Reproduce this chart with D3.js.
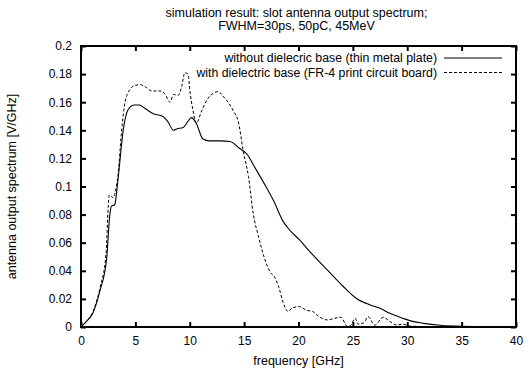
<!DOCTYPE html>
<html>
<head>
<meta charset="utf-8">
<script src="https://cdn.jsdelivr.net/npm/d3@7"></script>
<style>
  body { margin: 0; background: #fff; }
  text { font-family: "Liberation Sans", Arial, sans-serif; fill: #000; }
</style>
</head>
<body>
<svg id="viz" width="530" height="372"></svg>
<script>
// slot antenna output spectrum, two cases

var titleLines = ["simulation result: slot antenna output spectrum;", "FWHM=30ps, 50pC, 45MeV"];
var xLabel = "frequency [GHz]";
var yLabel = "antenna output spectrum [V/GHz]";
var seriesNames = ["without dielecric base (thin metal plate)", "with dielectric base (FR-4 print circuit board)"];
var xTicks = [0, 5, 10, 15, 20, 25, 30, 35, 40];
var yTicks = [0, 0.02, 0.04, 0.06, 0.08, 0.1, 0.12, 0.14, 0.16, 0.18, 0.2];

// without dielectric base: [GHz, V/GHz]
var metalPlate = [
  [0, 0], [0.5, 0.004], [1.1, 0.010], [1.75, 0.026], [2.35, 0.048], [2.65, 0.080],
  [2.8, 0.086], [3.1, 0.087], [3.4, 0.105], [3.9, 0.141], [4.35, 0.155], [4.9, 0.158],
  [5.4, 0.158], [5.8, 0.156], [6.6, 0.152], [7.5, 0.150], [8.0, 0.146], [8.5, 0.140],
  [8.8, 0.141], [9.4, 0.142], [9.8, 0.146], [10.15, 0.149], [10.6, 0.145], [11.2, 0.134],
  [11.8, 0.1325], [12.8, 0.1325], [13.7, 0.132], [14.6, 0.127], [15.2, 0.1235],
  [16.1, 0.112], [17.0, 0.100], [17.7, 0.090], [18.6, 0.075], [19.3, 0.068], [20.1, 0.062],
  [21.0, 0.054], [22.6, 0.041], [24.1, 0.029], [25.3, 0.0205], [26.6, 0.0157],
  [27.5, 0.0133], [28.4, 0.0097], [29.6, 0.0062], [30.5, 0.004], [31.5, 0.0026],
  [33.0, 0.0012], [34.5, 0.0006], [37.0, 0.0002], [40.0, 0.0001]
];

// with dielectric base
var fr4Board = [
  [0, 0], [0.5, 0.004], [1.1, 0.011], [1.75, 0.028], [2.3, 0.052], [2.5, 0.085],
  [2.6, 0.094], [2.8, 0.093], [2.95, 0.092], [3.15, 0.096], [3.4, 0.108], [3.75, 0.141],
  [4.05, 0.160], [4.5, 0.169], [5.0, 0.172], [5.45, 0.1725], [5.9, 0.171], [6.5, 0.168],
  [7.25, 0.168], [7.7, 0.166], [8.2, 0.160], [8.5, 0.1655], [8.95, 0.165], [9.25, 0.171],
  [9.55, 0.181], [9.85, 0.180], [10.0, 0.169], [10.3, 0.154], [10.6, 0.145], [11.1, 0.154],
  [11.7, 0.163], [12.2, 0.1665], [12.6, 0.1675], [13.2, 0.163], [13.7, 0.158], [14.0, 0.154],
  [14.5, 0.145], [14.9, 0.126], [15.4, 0.107], [15.85, 0.080], [16.3, 0.065], [17.0, 0.046],
  [17.4, 0.039], [17.8, 0.0355], [18.2, 0.028], [18.6, 0.017], [19.05, 0.011],
  [19.4, 0.0135], [20.1, 0.0145], [20.7, 0.012], [21.3, 0.011], [21.9, 0.0073],
  [22.7, 0.005], [23.3, 0.0062], [23.9, 0.0069], [24.5, 0.0003], [24.8, 0.001],
  [25.2, 0.0062], [25.5, 0.002], [26.0, 0.003], [26.4, 0.0073], [27.0, 0.0014],
  [27.8, 0.0069], [28.4, 0.004], [29.0, 0.0014], [29.6, 0.002], [30.2, 0.0007],
  [31.5, 0.0003], [34.0, 0.0001], [40.0, 0.0]
];

var svg = d3.select("#viz");
var margin = {left: 81, right: 14, top: 46, bottom: 45};
var width = +svg.attr("width"), height = +svg.attr("height");
var plotW = width - margin.left - margin.right;
var plotH = height - margin.top - margin.bottom;

var x = d3.scaleLinear().domain([0, 40]).range([margin.left, margin.left + plotW]);
var y = d3.scaleLinear().domain([0, 0.2]).range([margin.top + plotH, margin.top]);

var tickFont = 12;
var labelFont = 12.5;

// title
svg.append("g").selectAll("text")
    .data(titleLines)
    .enter()
    .append("text")
    .attr("x", margin.left + plotW / 2 - 2)
    .attr("y", (d, i) => 17 + i * 12.5)
    .attr("text-anchor", "middle")
    .attr("font-size", 12.5)
    .text(d => d);

// axes with inward ticks, mirrored
var tickLen = 5;
svg.append("g")
    .attr("transform", `translate(0,${margin.top + plotH})`)
    .call(d3.axisBottom(x).tickValues(xTicks).tickSizeInner(-tickLen).tickSizeOuter(0).tickPadding(9))
    .call(g => g.select(".domain").remove());
svg.append("g")
    .attr("transform", `translate(0,${margin.top})`)
    .call(d3.axisTop(x).tickValues(xTicks).tickSizeInner(-tickLen).tickSizeOuter(0).tickFormat(""))
    .call(g => g.select(".domain").remove());
svg.append("g")
    .attr("transform", `translate(${margin.left},0)`)
    .call(d3.axisLeft(y).tickValues(yTicks).tickSizeInner(-tickLen).tickSizeOuter(0).tickPadding(9)
        .tickFormat(d3.format("~g")))
    .call(g => g.select(".domain").remove());
svg.append("g")
    .attr("transform", `translate(${margin.left + plotW},0)`)
    .call(d3.axisRight(y).tickValues(yTicks).tickSizeInner(-tickLen).tickSizeOuter(0).tickFormat(""))
    .call(g => g.select(".domain").remove());

svg.selectAll(".tick line").attr("stroke", "#000").attr("stroke-width", 2);
svg.selectAll(".tick text")
    .attr("font-size", tickFont)
    .attr("font-family", "Liberation Sans, Arial, sans-serif")
    .attr("fill", "#000");

// curves
var line = d3.line()
    .x(d => x(d[0]))
    .y(d => y(d[1]))
    .curve(d3.curveMonotoneX);

var plot = svg.append("g");
plot.append("path")
    .datum(metalPlate)
    .attr("fill", "none")
    .attr("stroke", "#000")
    .attr("stroke-width", 1.1)
    .attr("d", line);
plot.append("path")
    .datum(fr4Board)
    .attr("fill", "none")
    .attr("stroke", "#000")
    .attr("stroke-width", 1)
    .attr("stroke-dasharray", "3,2")
    .attr("d", line);

// frame
svg.append("rect")
    .attr("x", margin.left)
    .attr("y", margin.top)
    .attr("width", plotW)
    .attr("height", plotH)
    .attr("fill", "none")
    .attr("stroke", "#000")
    .attr("stroke-width", 2);

// legend (top right, inside)
var legend = svg.append("g");
var dashes = [null, "3,2"];
seriesNames.forEach((name, i) => {
    var ly = 58 + i * 14.5;
    legend.append("text")
        .attr("x", 437)
        .attr("y", ly + 4)
        .attr("text-anchor", "end")
        .attr("font-size", 12.3)
        .text(name);
    legend.append("line")
        .attr("x1", 444)
        .attr("x2", 502)
        .attr("y1", ly)
        .attr("y2", ly)
        .attr("stroke", "#000")
        .attr("stroke-width", 1)
        .attr("stroke-dasharray", dashes[i]);
});

// axis titles
svg.append("text")
    .attr("x", margin.left + plotW / 2)
    .attr("y", 365)
    .attr("text-anchor", "middle")
    .attr("font-size", labelFont)
    .text(xLabel);
svg.append("text")
    .attr("transform", `translate(16,${margin.top + plotH / 2}) rotate(-90)`)
    .attr("text-anchor", "middle")
    .attr("font-size", labelFont)
    .text(yLabel);
</script>
</body>
</html>
